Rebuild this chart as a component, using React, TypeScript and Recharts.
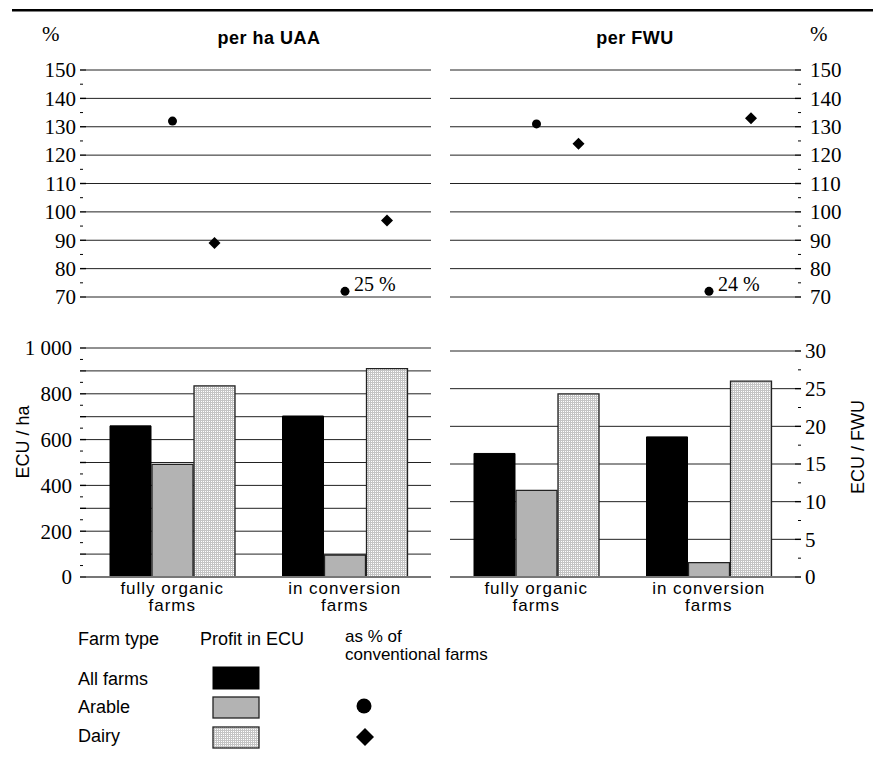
import React from "react";
import { ComposedChart, Bar, XAxis, YAxis, CartesianGrid, ReferenceLine } from "recharts";

const categories = ["fully organic farms", "in conversion farms"];

// profit in ECU per ha UAA
const haAllFarms = [660, 703];
const haArable = [492, 96];
const haDairy = [835, 910];

// profit in ECU per FWU
const fwuAllFarms = [16.4, 18.6];
const fwuArable = [11.5, 1.9];
const fwuDairy = [24.3, 26.0];

// profit as % of conventional farms
const pctHaArable = [132, 25];
const pctHaDairy = [89, 97];
const pctFwuArable = [131, 24];
const pctFwuDairy = [124, 133];

const pctTicks = [70, 75, 80, 85, 90, 95, 100, 105, 110, 115, 120, 125, 130, 135, 140, 145, 150];
const pctGrid = [70, 80, 90, 100, 110, 120, 130, 140, 150];
const haTicks = [0, 50, 100, 150, 200, 250, 300, 350, 400, 450, 500, 550, 600, 650, 700, 750, 800, 850, 900, 950, 1000];
const haGrid = [0, 100, 200, 300, 400, 500, 600, 700, 800, 900, 1000];
const fwuTicks = [0, 2.5, 5, 7.5, 10, 12.5, 15, 17.5, 20, 22.5, 25, 27.5, 30];
const fwuGrid = [0, 5, 10, 15, 20, 25, 30];

// % values under the axis floor get parked just above it and labelled
const PCT_FLOOR = 70;
const OFF_SCALE_AT = 72;

const SERIF = '"Liberation Serif", "Times New Roman", serif';
const SANS = '"Liberation Sans", Arial, sans-serif';

const onStep = (v: number, step: number) => Math.abs(v / step - Math.round(v / step)) < 1e-6;
const fmtNum = (v: number) => String(v).replace(/\B(?=(\d{3})+(?!\d))/g, " ");

function AxisTick(props: any) {
  const { x, y, payload, side, labelStep, majorStep, gap } = props;
  const v = payload.value;
  const d = side === "left" ? -1 : 1;
  const major = onStep(v, majorStep);
  return (
    <g>
      <line x1={major ? x : x + d * 3} x2={x + d * 6} y1={y} y2={y} stroke="#000" strokeWidth={major ? 1.4 : 1} />
      {onStep(v, labelStep) && (
        <text x={x + d * gap} y={y} dy="0.35em" textAnchor={side === "left" ? "end" : "start"}
          fontFamily={SERIF} fontSize={21} fill="#000">
          {fmtNum(v)}
        </text>
      )}
    </g>
  );
}

function CategoryTick({ x, y, payload }: any) {
  const s = String(payload.value);
  const cut = s.lastIndexOf(" ");
  return (
    <text x={x} y={y} textAnchor="middle" fontFamily={SANS} fontSize={17} letterSpacing={1} fill="#000">
      <tspan x={x} dy={17}>{s.slice(0, cut)}</tspan>
      <tspan x={x} dy={17}>{s.slice(cut + 1)}</tspan>
    </text>
  );
}

const markerShape = (kind: "circle" | "diamond", realKey: string) => (p: any) => {
  if (p.value == null || p.y == null) return <g />;
  const cx = p.x + p.width / 2;
  const cy = p.y;
  const real = p.payload[realKey];
  return (
    <g>
      {kind === "circle" ? (
        <circle cx={cx} cy={cy} r={4.5} fill="#000" />
      ) : (
        <polygon points={`${cx},${cy - 6} ${cx + 6},${cy} ${cx},${cy + 6} ${cx - 6},${cy}`} fill="#000" />
      )}
      {real < PCT_FLOOR && (
        <text x={cx + 9} y={cy - 7} dy="0.35em" fontFamily={SERIF} fontSize={20} fill="#000">
          {real} %
        </text>
      )}
    </g>
  );
};

function PctPanel({ side, arable, dairy }: { side: "left" | "right"; arable: number[]; dairy: number[] }) {
  const left = side === "left";
  const data = categories.map((cat, i) => ({
    cat,
    arable: arable[i] < PCT_FLOOR ? OFF_SCALE_AT : arable[i],
    arableReal: arable[i],
    dairy: dairy[i] < PCT_FLOOR ? OFF_SCALE_AT : dairy[i],
    dairyReal: dairy[i],
  }));
  return (
    <ComposedChart width={left ? 440 : 433} height={310} data={data}
      margin={left ? { top: 70, right: 9, bottom: 13, left: 0 } : { top: 70, right: 0, bottom: 13, left: 10 }}
      barCategoryGap={24} barGap={1}>
      <CartesianGrid vertical={false} horizontalValues={pctGrid} stroke="#222" />
      <XAxis dataKey="cat" hide />
      <YAxis orientation={side} width={left ? 86 : 78} domain={[70, 150]} ticks={pctTicks} interval={0}
        tickSize={0} tickMargin={0} axisLine={false} tickLine={false} allowDataOverflow
        tick={(p: any) => <AxisTick {...p} side={side} labelStep={10} majorStep={10} gap={left ? 10 : 15} />} />
      <Bar dataKey="all" isAnimationActive={false} shape={() => <g />} />
      <Bar dataKey="arable" isAnimationActive={false} shape={markerShape("circle", "arableReal")} />
      <Bar dataKey="dairy" isAnimationActive={false} shape={markerShape("diamond", "dairyReal")} />
    </ComposedChart>
  );
}

function ProfitPanel(props: {
  side: "left" | "right"; all: number[]; arable: number[]; dairy: number[];
  max: number; ticks: number[]; grid: number[]; labelStep: number; majorStep: number; top: number; gap: number;
}) {
  const { side, all, arable, dairy, max, ticks, grid, labelStep, majorStep, top, gap } = props;
  const left = side === "left";
  const data = categories.map((cat, i) => ({ cat, all: all[i], arable: arable[i], dairy: dairy[i] }));
  return (
    <ComposedChart width={left ? 440 : 433} height={300} data={data}
      margin={left ? { top, right: 9, bottom: 13, left: 0 } : { top, right: 0, bottom: 13, left: 10 }}
      barCategoryGap={24} barGap={1}>
      <CartesianGrid vertical={false} horizontalValues={grid} stroke="#222" />
      <XAxis dataKey="cat" height={40} interval={0} tickSize={0} tickMargin={0} axisLine={false} tickLine={false}
        tick={(p: any) => <CategoryTick {...p} />} />
      <YAxis orientation={side} width={left ? 86 : 78} domain={[0, max]} ticks={ticks} interval={0}
        tickSize={0} tickMargin={0} axisLine={false} tickLine={false}
        tick={(p: any) => <AxisTick {...p} side={side} labelStep={labelStep} majorStep={majorStep} gap={gap} />} />
      <Bar dataKey="all" fill="#000" stroke="#000" strokeWidth={1} isAnimationActive={false} />
      <Bar dataKey="arable" fill="#b3b3b3" stroke="#222" strokeWidth={1.3} isAnimationActive={false} />
      <Bar dataKey="dairy" fill="url(#dairyGrid)" stroke="#222" strokeWidth={1.3} isAnimationActive={false} />
      <ReferenceLine y={0} stroke="#777" strokeWidth={2} />
    </ComposedChart>
  );
}

const abs = (left: number, top: number): React.CSSProperties => ({ position: "absolute", left, top });

export default function App() {
  return (
    <div style={{ position: "absolute", left: 0, top: 0, width: 873, height: 757, background: "#fff" }}>
      <div style={abs(0, 0)}>
        <PctPanel side="left" arable={pctHaArable} dairy={pctHaDairy} />
      </div>
      <div style={abs(440, 0)}>
        <PctPanel side="right" arable={pctFwuArable} dairy={pctFwuDairy} />
      </div>
      <div style={abs(0, 330)}>
        <ProfitPanel side="left" all={haAllFarms} arable={haArable} dairy={haDairy} max={1000}
          ticks={haTicks} grid={haGrid} labelStep={200} majorStep={100} top={18} gap={14} />
      </div>
      <div style={abs(440, 330)}>
        <ProfitPanel side="right" all={fwuAllFarms} arable={fwuArable} dairy={fwuDairy} max={30}
          ticks={fwuTicks} grid={fwuGrid} labelStep={5} majorStep={5} top={21} gap={10} />
      </div>

      <svg width={873} height={757} style={{ position: "absolute", left: 0, top: 0, pointerEvents: "none" }}>
        <defs>
          <pattern id="dairyGrid" width={2} height={2} patternUnits="userSpaceOnUse">
            <rect width={2} height={2} fill="#fff" />
            <rect width={2} height={1} fill="#c4c4c4" />
            <rect width={1} height={2} fill="#c4c4c4" />
          </pattern>
        </defs>
        <rect x={12} y={9} width={861} height={2.5} fill="#000" />

        <text x={42} y={41} fontFamily={SERIF} fontSize={21}>%</text>
        <text x={810} y={41} fontFamily={SERIF} fontSize={21}>%</text>
        <text x={269} y={44} textAnchor="middle" fontFamily={SANS} fontWeight="bold" fontSize={18} letterSpacing={0.5}>per ha UAA</text>
        <text x={635} y={44} textAnchor="middle" fontFamily={SANS} fontWeight="bold" fontSize={18} letterSpacing={0.5}>per FWU</text>

        <text transform="translate(23,442) rotate(-90)" textAnchor="middle" dy="0.35em" fontFamily={SANS} fontSize={18}>ECU / ha</text>
        <text transform="translate(858,447) rotate(-90)" textAnchor="middle" dy="0.35em" fontFamily={SANS} fontSize={18}>ECU / FWU</text>

        <g fontFamily={SANS} fontSize={18} fill="#000">
          <text x={78} y={645}>Farm type</text>
          <text x={200} y={645}>Profit in ECU</text>
          <text x={345} y={642} fontSize={17}>as % of</text>
          <text x={345} y={660} fontSize={17}>conventional farms</text>
          <text x={78} y={685}>All farms</text>
          <text x={78} y={713}>Arable</text>
          <text x={78} y={742}>Dairy</text>
        </g>
        <rect x={213} y={667} width={46} height={22} fill="#000" stroke="#000" />
        <rect x={213} y={697} width={46} height={21} fill="#b3b3b3" stroke="#222" strokeWidth={1.3} />
        <rect x={213} y={727} width={46} height={21} fill="url(#dairyGrid)" stroke="#222" strokeWidth={1.3} />
        <circle cx={364} cy={706} r={7.5} fill="#000" />
        <polygon points="365,728 374,737 365,746 356,737" fill="#000" />
      </svg>
    </div>
  );
}
